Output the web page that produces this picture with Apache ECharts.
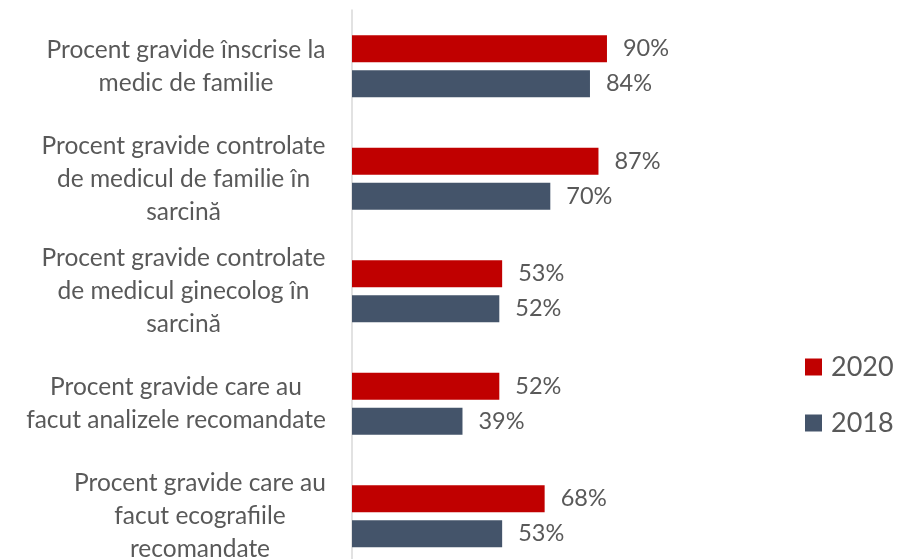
<!DOCTYPE html>
<html>
<head>
<meta charset="utf-8">
<script src="https://cdn.jsdelivr.net/npm/echarts@6/dist/echarts.min.js"></script>
<style>
html,body{margin:0;padding:0;background:#fff;overflow:hidden;}
#chart{width:900px;height:575px;}
</style>
</head>
<body>
<div id="chart"></div>
<script>
const categories = [
  "Procent gravide înscrise la\nmedic de familie",
  "Procent gravide controlate\nde medicul de familie în\nsarcină",
  "Procent gravide controlate\nde medicul ginecolog în\nsarcină",
  "Procent gravide care au\nfacut analizele recomandate",
  "Procent gravide care au\nfacut ecografiile\nrecomandate"
];
const seriesNames = ["2020", "2018"];
const values2020 = [90, 87, 53, 52, 68];
const values2018 = [84, 70, 52, 39, 53];

const FONT = "Lato";
const CAT_SIZE = 24.5;
const ctx = document.createElement("canvas").getContext("2d");
ctx.font = CAT_SIZE + "px " + FONT;
const rich = {};
categories.forEach((c, i) => {
  const w = Math.max(...c.split("\n").map(l => ctx.measureText(l).width));
  rich["c" + i] = { width: Math.ceil(w), align: "center", fontSize: CAT_SIZE, fontFamily: FONT, color: "#595959", lineHeight: 33 };
});

const chart = echarts.init(document.getElementById("chart"), null, { renderer: "canvas" });
chart.setOption({
  animation: false,
  textStyle: { fontFamily: FONT },
  grid: { left: 352, right: 264.7, top: 10, bottom: 2.5, containLabel: false },
  legend: {
    data: seriesNames,
    orient: "vertical",
    left: 800,
    top: 346,
    icon: "rect",
    itemWidth: 17,
    itemHeight: 17,
    itemGap: 24,
    textStyle: { fontSize: 27, color: "#595959", fontFamily: FONT, lineHeight: 32, padding: [0, 0, 0, 4] }
  },
  xAxis: {
    type: "value", min: 0, max: 100, show: false,
    splitLine: { show: false }
  },
  yAxis: {
    type: "category",
    inverse: true,
    data: categories,
    axisLine: { show: true, lineStyle: { color: "#d9d9d9", width: 1.5 } },
    axisTick: { show: false },
    axisLabel: {
      margin: 26,
      formatter: function (value, idx) {
        return value.split("\n").map(l => "{c" + idx + "|" + l + "}").join("\n");
      },
      rich: rich
    }
  },
  series: [
    {
      name: seriesNames[0], type: "bar", data: values2020,
      barWidth: 27, barGap: "30%",
      itemStyle: { color: "#C00000" },
      label: { show: true, position: "right", distance: 16, formatter: "{c}%", fontSize: 23.5, color: "#595959", fontFamily: FONT }
    },
    {
      name: seriesNames[1], type: "bar", data: values2018,
      barWidth: 27, barGap: "30%",
      itemStyle: { color: "#44546A" },
      label: { show: true, position: "right", distance: 16, formatter: "{c}%", fontSize: 23.5, color: "#595959", fontFamily: FONT }
    }
  ]
});
</script>
</body>
</html>
